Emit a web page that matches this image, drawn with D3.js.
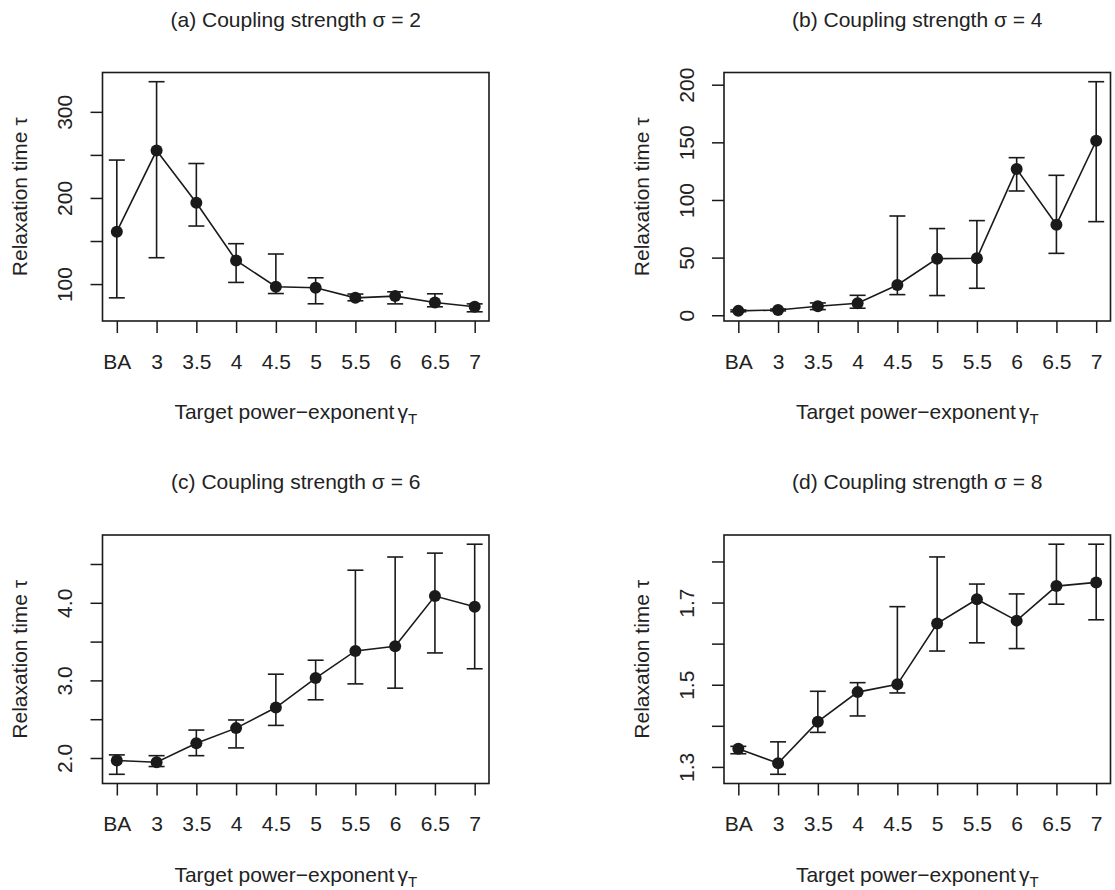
<!DOCTYPE html>
<html>
<head>
<meta charset="utf-8">
<script src="https://cdnjs.cloudflare.com/ajax/libs/d3/7.8.5/d3.min.js"></script>
<style>
  body { margin: 0; background: #fff; }
  text { font-family: "Liberation Sans", Arial, Helvetica, sans-serif; fill: #222; }
</style>
</head>
<body>
<svg width="1115" height="890"></svg>
<script>
// categories on the x axis
var categories = ["BA", "3", "3.5", "4", "4.5", "5", "5.5", "6", "6.5", "7"];

// (a) sigma = 2
var meanA = [160.8, 255, 194.5, 127.4, 96.9, 95.7, 84, 86, 78.6, 73.6];
var lowA  = [84, 130.6, 167.4, 101.9, 89, 77.1, 80.6, 77, 73.6, 67.8];
var highA = [244, 335, 240, 146.9, 134.9, 107.3, 88.4, 91, 88.7, 77];
var ticksA = [100, 150, 200, 250, 300];
var labelsA = ["100", "", "200", "", "300"];

// (b) sigma = 4
var meanB = [3.8, 4.6, 7.8, 10.4, 26.3, 49.1, 49.4, 126.8, 78.6, 151.4];
var lowB  = [3.0, 3.8, 4.9, 6.1, 17.9, 17.1, 23.4, 107.8, 53.7, 81.2];
var highB = [4.6, 5.4, 10.7, 17.3, 86.1, 75.2, 82.1, 136.7, 121.4, 202.6];
var ticksB = [0, 50, 100, 150, 200];
var labelsB = ["0", "50", "100", "150", "200"];

// (c) sigma = 6
var meanC = [1.967, 1.945, 2.19, 2.385, 2.65, 3.03, 3.38, 3.44, 4.087, 3.95];
var lowC  = [1.79, 1.89, 2.03, 2.13, 2.42, 2.75, 2.955, 2.90, 3.354, 3.15];
var highC = [2.04, 2.03, 2.36, 2.49, 3.08, 3.26, 4.42, 4.59, 4.64, 4.755];
var ticksC = [2.0, 2.5, 3.0, 3.5, 4.0, 4.5];
var labelsC = ["2.0", "", "3.0", "", "4.0", ""];

// (d) sigma = 8
var meanD = [1.344, 1.309, 1.41, 1.482, 1.501, 1.649, 1.708, 1.656, 1.740, 1.749];
var lowD  = [1.332, 1.282, 1.384, 1.424, 1.48, 1.582, 1.602, 1.588, 1.696, 1.658];
var highD = [1.350, 1.361, 1.484, 1.505, 1.69, 1.811, 1.745, 1.721, 1.842, 1.842];
var ticksD = [1.3, 1.4, 1.5, 1.6, 1.7, 1.8];
var labelsD = ["1.3", "", "1.5", "", "1.7", ""];

var titles = ["(a) Coupling strength σ = 2", "(b) Coupling strength σ = 4",
              "(c) Coupling strength σ = 6", "(d) Coupling strength σ = 8"];

var panels = [
  {title: titles[0], mean: meanA, low: lowA, high: highA, ticks: ticksA, labels: labelsA, x: 102.5, y: 72.5},
  {title: titles[1], mean: meanB, low: lowB, high: highB, ticks: ticksB, labels: labelsB, x: 724, y: 72.5},
  {title: titles[2], mean: meanC, low: lowC, high: highC, ticks: ticksC, labels: labelsC, x: 102.5, y: 535},
  {title: titles[3], mean: meanD, low: lowD, high: highD, ticks: ticksD, labels: labelsD, x: 724, y: 535}
];

var pw = 386.5, ph = 248.5;
var ink = "#1a1a1a";
var svg = d3.select("svg");

panels.forEach(function(p) {
  var g = svg.append("g").attr("transform", "translate(" + p.x + "," + p.y + ")");

  var data = categories.map(function(c, i) {
    return {cat: c, mean: p.mean[i], low: p.low[i], high: p.high[i]};
  });

  // scales, R style 4% padding
  var xScale = d3.scalePoint().domain(categories).range([0, pw]).padding(0.36);
  var lo = d3.min(data, d => d.low), hi = d3.max(data, d => d.high);
  var pad = (hi - lo) * 0.04;
  var yScale = d3.scaleLinear().domain([lo - pad, hi + pad]).range([ph, 0]);

  // box
  g.append("rect")
    .attr("width", pw).attr("height", ph)
    .attr("fill", "none").attr("stroke", ink).attr("stroke-width", 1.6);

  // axes
  var xAxis = d3.axisBottom(xScale).tickSize(12).tickPadding(21);
  var xg = g.append("g").attr("transform", "translate(0," + ph + ")").call(xAxis);
  var yAxis = d3.axisLeft(yScale).tickValues(p.ticks).tickSize(12)
    .tickFormat(function(d, i) { return p.labels[i]; });
  var yg = g.append("g").call(yAxis);

  [xg, yg].forEach(function(a) {
    a.select(".domain").remove();
    a.selectAll(".tick line").attr("stroke", ink).attr("stroke-width", 1.5);
    a.selectAll(".tick text").attr("font-size", 21).attr("fill", "#222")
      .attr("font-family", "Liberation Sans, Arial, sans-serif");
  });
  yg.selectAll(".tick text")
    .attr("x", null).attr("dy", null)
    .attr("text-anchor", "middle")
    .attr("transform", "translate(-30.5,0) rotate(-90)");

  // labels
  g.append("text")
    .attr("x", pw / 2).attr("y", -46)
    .attr("text-anchor", "middle").attr("font-size", 21)
    .text(p.title);

  var xl = g.append("text")
    .attr("x", pw / 2).attr("y", ph + 98)
    .attr("text-anchor", "middle").attr("font-size", 21)
    .text("Target power\u2212exponent");
  xl.append("tspan").attr("dx", 3).text("γ");
  xl.append("tspan").attr("font-size", 15).attr("dy", 5).text("T");

  g.append("text")
    .attr("transform", "translate(-75.5," + (ph / 2) + ") rotate(-90)")
    .attr("text-anchor", "middle").attr("font-size", 21)
    .text("Relaxation time τ");

  // error bars
  var eb = g.selectAll(".eb").data(data).enter().append("g").attr("class", "eb")
    .attr("stroke", ink).attr("stroke-width", 1.6);
  eb.append("line")
    .attr("x1", d => xScale(d.cat)).attr("x2", d => xScale(d.cat))
    .attr("y1", d => yScale(d.low)).attr("y2", d => yScale(d.high));
  eb.append("line")
    .attr("x1", d => xScale(d.cat) - 8).attr("x2", d => xScale(d.cat) + 8)
    .attr("y1", d => yScale(d.low)).attr("y2", d => yScale(d.low));
  eb.append("line")
    .attr("x1", d => xScale(d.cat) - 8).attr("x2", d => xScale(d.cat) + 8)
    .attr("y1", d => yScale(d.high)).attr("y2", d => yScale(d.high));

  // line + points
  var line = d3.line().x(d => xScale(d.cat)).y(d => yScale(d.mean));
  g.append("path").datum(data)
    .attr("d", line).attr("fill", "none")
    .attr("stroke", ink).attr("stroke-width", 1.6);

  g.selectAll(".pt").data(data).enter().append("circle").attr("class", "pt")
    .attr("cx", d => xScale(d.cat)).attr("cy", d => yScale(d.mean))
    .attr("r", 6).attr("fill", ink);
});
</script>
</body>
</html>
